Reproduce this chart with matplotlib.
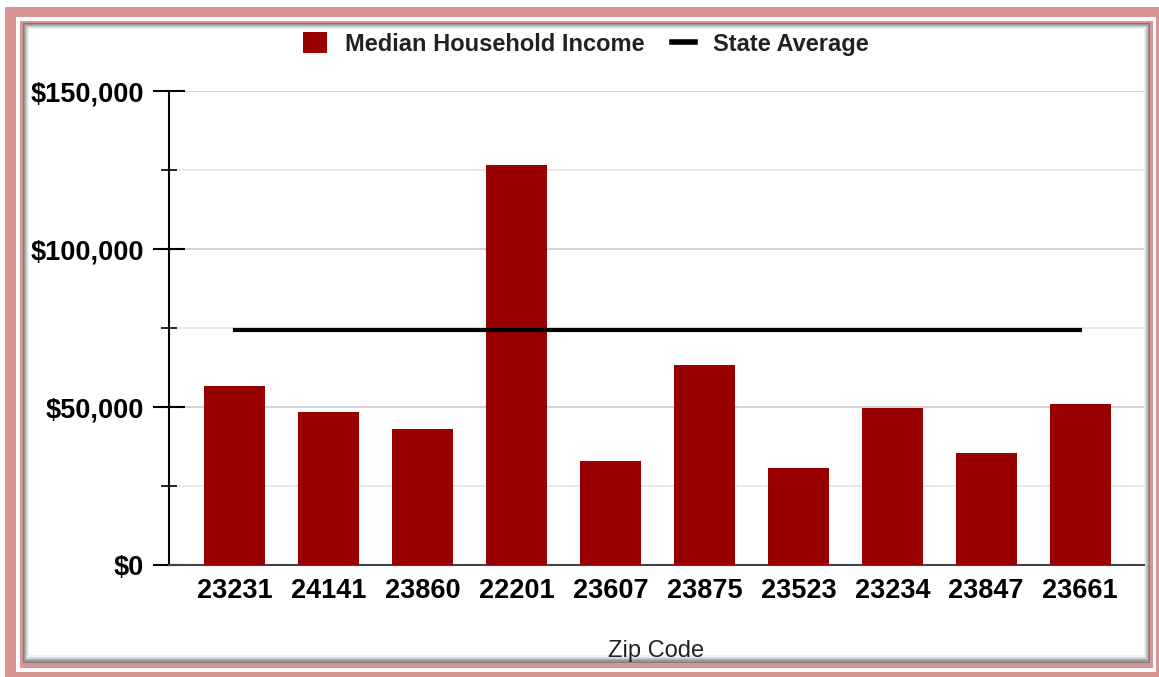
import matplotlib
matplotlib.use("Agg")
import matplotlib.pyplot as plt
from matplotlib.patches import Rectangle
from matplotlib.lines import Line2D
import numpy as np

plt.rcParams['font.family'] = ['Liberation Sans', 'DejaVu Sans']

zips = ['23231', '24141', '23860', '22201', '23607', '23875', '23523', '23234', '23847', '23661']
income = [56600, 48400, 43000, 126600, 32900, 63300, 30700, 49700, 35400, 50900]
state_avg = 74400
yticks = [0, 50000, 100000, 150000]
ytick_labels = ['$0', '$50,000', '$100,000', '$150,000']

W, H = 1159, 677
bar_color = '#990000'
pink = '#d99594'

fig = plt.figure(figsize=(W / 100, H / 100), dpi=100)
fig.patch.set_facecolor('white')


def frame_rect(x0, y0, x1, y1, color, z):
    # pixel coords from top-left
    r = Rectangle((x0 / W, 1 - y1 / H), (x1 - x0) / W, (y1 - y0) / H,
                  transform=fig.transFigure, facecolor=color, edgecolor='none', zorder=z)
    fig.patches.append(r)


frame_rect(5, 7, 1159, 677, pink, -10)
frame_rect(16, 17, 1156, 672, 'white', -9)
frame_rect(20, 21, 1153, 668, pink, -8)
shades = ['#7a7a7a', '#969696', '#b2b2b2', '#cbcbcb', '#e0e0e0', '#f0f0f0']
for i, c in enumerate(shades):
    frame_rect(23 + i, 23 + i, 1150 - i, 663 - i * 1.3, c, -7 + i)
frame_rect(29, 29, 1144, 655, 'white', 0)

ax = fig.add_axes([169 / W, 1 - 565 / H, (1144 - 169) / W, (565 - 91) / H])
ax.set_facecolor('none')
ax.set_zorder(2)

x = np.arange(len(zips))
ax.bar(x, income, width=0.65, color=bar_color, zorder=3)
ax.plot([x[0], x[-1]], [state_avg, state_avg], color='black', lw=3, zorder=4)

ax.set_xlim(-0.7, 9.68)
ax.set_ylim(0, 150000)
ax.set_yticks(yticks)
ax.set_yticklabels(ytick_labels, fontsize=19.5, fontweight='bold')
ax.set_yticks(np.arange(0, 150001, 25000), minor=True)
ax.set_xticks(x)
ax.set_xticklabels(zips, fontsize=19.5, fontweight='bold')

for v in np.arange(25000, 150001, 25000):
    major = v % 50000 == 0
    ax.axhline(v, color='#cccccc' if major else '#e6e6e6', lw=1.2, zorder=1)

for s in ['top', 'right']:
    ax.spines[s].set_visible(False)
ax.spines['left'].set_linewidth(1.5)
ax.spines['left'].set_color('black')
ax.spines['bottom'].set_color('#444444')
ax.spines['bottom'].set_linewidth(1.5)

ax.tick_params(axis='y', which='major', direction='inout', length=23, width=1.5, pad=6.5)
ax.tick_params(axis='y', which='minor', direction='inout', length=11, width=1.2)
ax.tick_params(axis='x', length=0, pad=9)

ax.set_xlabel('Zip Code', fontsize=17, color='#222222', labelpad=26)

handles = [Rectangle((0, 0), 1, 1, facecolor=bar_color, edgecolor='none'),
           Line2D([0], [0], color='black', lw=4)]
fig.legend(handles, ['Median Household Income', 'State Average'],
           loc='center', bbox_to_anchor=(586 / W, 1 - 44 / H), ncol=2, frameon=False,
           prop={'size': 17, 'weight': 'bold'}, handlelength=1.0, handleheight=1.0,
           columnspacing=1.15, handletextpad=0.75, labelcolor='#222222')

fig.savefig('out.png', dpi=100)
